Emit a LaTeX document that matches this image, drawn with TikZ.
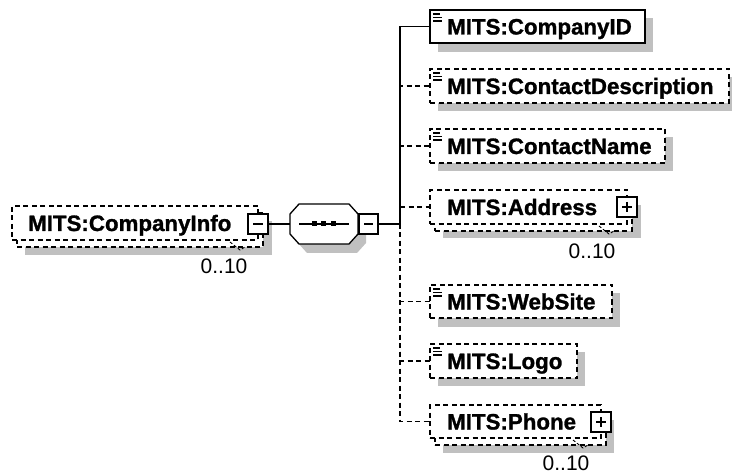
\documentclass[tikz,border=0pt]{standalone}
\usepackage{fontspec}
\setmainfont{Liberation Sans}
\newfontface\heavyface[FakeBold=1.2]{Liberation Sans Bold}
\usetikzlibrary{calc}
\definecolor{shadowgray}{RGB}{192,192,192}
\begin{document}
\begin{tikzpicture}[x=1pt,y=-1pt,
  dbox/.style={draw, rectangle, dash pattern=on 5pt off 3.5pt, line width=1.3pt, fill=white, inner sep=0pt, outer sep=0pt, anchor=north west},
  sbox/.style={draw, rectangle, line width=1.6pt, fill=white, inner sep=0pt, outer sep=0pt, anchor=north west},
  pmbox/.style={draw, rectangle, line width=1.3pt, fill=white, minimum width=20pt, minimum height=20pt, inner sep=0pt, outer sep=0pt},
  ename/.style={font=\heavyface\fontsize{22.3}{22}\selectfont, inner sep=0pt, anchor=base west},
  occ/.style={font=\fontsize{21}{21}\selectfont, inner sep=0pt},
  conn/.style={line width=1.3pt},
  dconn/.style={line width=1.3pt, dash pattern=on 5pt off 3.5pt},
  notch/.style={line width=0.9pt, dash pattern=on 3pt off 2pt},
  shadow/.style={fill=shadowgray, draw=none}
]
\useasboundingbox (0,0) rectangle (732,476);
\newcommand\docicon[2]{\draw[line width=1.2pt] (#1+3,#2+4) -- (#1+10,#2+4) (#1+3,#2+7.5) -- (#1+12,#2+7.5) (#1+3,#2+11) -- (#1+12,#2+11);}
\newcommand\minussign[1]{\draw[conn] ($(#1.west)+(5,0)$) -- ($(#1.east)+(-5,0)$);}
\newcommand\plussign[1]{\minussign{#1}\draw[conn] ($(#1.north)+(0,5)$) -- ($(#1.south)+(0,-5)$);}

% ---------- shadows ----------
\fill[shadow] (25,221) rectangle (272,255);
\fill[shadow] (307,213) -- (357,213) -- (366,223) -- (366,243) -- (357,253) -- (307,253) -- (298,243) -- (298,223) -- cycle;
\fill[shadow] (438,18) rectangle (653,52);
\fill[shadow] (438,77) rectangle (737,111);
\fill[shadow] (438,137) rectangle (673,171);
\fill[shadow] (443,205) rectangle (641,238);
\fill[shadow] (438,293) rectangle (620,327);
\fill[shadow] (438,352) rectangle (585,386);
\fill[shadow] (443,420) rectangle (614,453);

% ---------- root element ----------
\node[dbox, minimum width=246pt, minimum height=34pt] (infoback) at (17,213) {};
\node[dbox, minimum width=246pt, minimum height=34pt] (info) at (12,206) {};
\node[ename] (infot) at (28,231) {MITS:CompanyInfo};
\node[pmbox] (infopm) at (258,224) {};
\minussign{infopm}
\draw[notch] (230,242) -- (240,250) -- (245,247);
\node[occ] (infoocc) at (224,266) {0..10};

% ---------- sequence compositor ----------
\draw[conn, fill=white] (299,204) -- (349,204) -- (358,214) -- (358,234) -- (349,244) -- (299,244) -- (290,234) -- (290,214) -- cycle;
\coordinate (seqin) at (290,224);
\draw[conn] (299,224) -- (349,224);
\fill (312,221.5) rectangle +(5,5);
\fill (321,221.5) rectangle +(5,5);
\fill (331,221.5) rectangle +(5,5);
\node[pmbox, minimum width=19pt] (seqpm) at (368.5,224) {};
\minussign{seqpm}
\coordinate (j) at (400,224);
\draw[conn] (infopm) -- (seqin);
\draw[conn] (seqpm) -- (j);

% ---------- children ----------
\node[sbox, minimum width=215pt, minimum height=33pt] (cid) at (430,10) {};
\node[dbox, minimum width=299pt, minimum height=34pt] (cdesc) at (430,69) {};
\node[dbox, minimum width=235pt, minimum height=34pt] (cname) at (430,129) {};
\node[dbox, minimum width=197pt, minimum height=34pt] (addrback) at (435,197) {};
\node[dbox, minimum width=197pt, minimum height=34pt] (addr) at (430,190) {};
\node[dbox, minimum width=182pt, minimum height=33pt] (web) at (430,285) {};
\node[dbox, minimum width=147pt, minimum height=34pt] (logo) at (430,344) {};
\node[dbox, minimum width=171pt, minimum height=33pt] (phoneback) at (435,412) {};
\node[dbox, minimum width=171pt, minimum height=33pt] (phone) at (430,405) {};

% connectors
\draw[dconn] (j) |- (cdesc.west);
\draw[dconn] (j) |- (cname.west);
\draw[dconn] (j) |- (addr.west);
\draw[dconn] (j) |- (web.west);
\draw[dconn] (j) |- (logo.west);
\draw[dconn] (j) |- (phone.west);
\draw[conn] (j) |- (cid.west);

% texts and icons
\node[ename] (cidt) at (447,34.5) {MITS:CompanyID};
\docicon{430}{10}
\node[ename] (cdesct) at (447,94) {MITS:ContactDescription};
\docicon{430}{69}
\node[ename] (cnamet) at (447,154) {MITS:ContactName};
\docicon{430}{129}
\node[ename] (addrt) at (447,215) {MITS:Address};
\node[pmbox] (addrpm) at (627,207) {};
\plussign{addrpm}
\draw[notch] (599,226) -- (609,234) -- (614,231);
\node[occ] (addrocc) at (592,251) {0..10};
\node[ename] (webt) at (447,309.5) {MITS:WebSite};
\docicon{430}{285}
\node[ename] (logot) at (447,369) {MITS:Logo};
\docicon{430}{344}
\node[ename] (phonet) at (447,429.5) {MITS:Phone};
\node[pmbox] (phonepm) at (601,422) {};
\plussign{phonepm}
\draw[notch] (573,440) -- (583,448) -- (588,445);
\node[occ] (phoneocc) at (566,463) {0..10};
\end{tikzpicture}
\end{document}
